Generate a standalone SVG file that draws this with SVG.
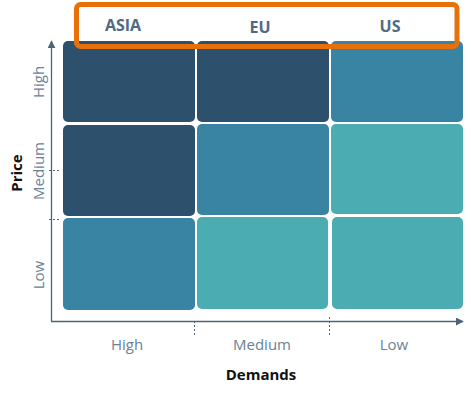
<svg xmlns="http://www.w3.org/2000/svg" width="471" height="394" viewBox="0 0 471 394">
<defs>
<style>
.dark{fill:#2d506c}
.mid{fill:#3884a2}
.teal{fill:#4badb2}
.axis{stroke:#4f6378;stroke-width:1.3;fill:none}
.tick{stroke:#4f6378;stroke-width:1;stroke-dasharray:2,2;fill:none}
.lab{font-family:"Open Sans","Liberation Sans",sans-serif;font-size:15px;fill:#6a8296;text-anchor:middle}
.title{font-family:"Open Sans","Liberation Sans",sans-serif;font-size:15px;font-weight:bold;fill:#111;text-anchor:middle}
.hdr{font-family:"Open Sans","Liberation Sans",sans-serif;font-size:16px;font-weight:bold;fill:#506a84;text-anchor:middle}
</style>
<marker id="arr" viewBox="0 0 10 10" refX="9" refY="5" markerWidth="8" markerHeight="8" markerUnits="userSpaceOnUse" orient="auto">
<path d="M0,0 L10,5 L0,10 z" fill="#4f6378"/>
</marker>
</defs>
<rect width="471" height="394" fill="#fff"/>
<g id="cells">
<g id="c-high-high"><rect class="dark" x="63" y="41" width="132" height="81" rx="5"/></g>
<g id="c-high-medium"><rect class="dark" x="197" y="41" width="132" height="81" rx="5"/></g>
<g id="c-high-low"><rect class="mid" x="331" y="41" width="132" height="81" rx="5"/></g>
<g id="c-medium-high"><rect class="dark" x="63" y="125" width="132" height="91" rx="5"/></g>
<g id="c-medium-medium"><rect class="mid" x="197" y="124" width="132" height="91" rx="5"/></g>
<g id="c-medium-low"><rect class="teal" x="331" y="124" width="132" height="90" rx="5"/></g>
<g id="c-low-high"><rect class="mid" x="63" y="218" width="132" height="92" rx="5"/></g>
<g id="c-low-medium"><rect class="teal" x="197" y="217" width="131" height="92" rx="5"/></g>
<g id="c-low-low"><rect class="teal" x="332" y="217" width="131" height="92" rx="5"/></g>
</g>
<g id="connectors">
<line class="axis" x1="51.5" y1="321.5" x2="51.5" y2="41" marker-end="url(#arr)"/>
<line class="axis" x1="51" y1="321.5" x2="463" y2="321.5" marker-end="url(#arr)"/>
<line class="tick" x1="49" y1="170.5" x2="59" y2="170.5"/>
<line class="tick" x1="49" y1="219.5" x2="59" y2="219.5"/>
<line class="tick" x1="194.5" y1="321" x2="194.5" y2="336"/>
<line class="tick" x1="329.5" y1="317" x2="329.5" y2="336"/>
</g>
<g id="y-labels">
<text class="lab" transform="translate(44,82) rotate(-90)">High</text>
<text class="lab" transform="translate(44,171) rotate(-90)">Medium</text>
<text class="lab" transform="translate(44,275) rotate(-90)">Low</text>
<text class="title" transform="translate(22,173) rotate(-90)">Price</text>
</g>
<g id="x-labels">
<text class="lab" x="127" y="350">High</text>
<text class="lab" x="262" y="350">Medium</text>
<text class="lab" x="394" y="350">Low</text>
<text class="title" x="261" y="380">Demands</text>
</g>
<g id="header">
<rect x="76.5" y="4.5" width="380.5" height="42" rx="4" fill="none" stroke="#e8700a" stroke-width="5"/>
<text class="hdr" x="123" y="31">ASIA</text>
<text class="hdr" x="260" y="33">EU</text>
<text class="hdr" x="390" y="32">US</text>
</g>
</svg>
